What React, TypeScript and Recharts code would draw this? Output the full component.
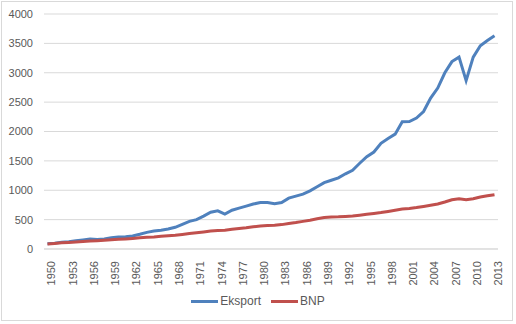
import React from "react";
import { LineChart, Line, XAxis, YAxis, CartesianGrid, Legend } from "recharts";

const years = Array.from({ length: 64 }, (_, i) => String(1950 + i));

const eksport = [
  88, 100, 115, 125, 140, 155, 170, 160, 170, 190,
  205, 210, 220, 250, 283, 305, 320, 340, 370, 420,
  470, 500, 560, 625, 650, 595, 660, 695, 730, 765,
  790, 790, 770, 790, 865, 900, 935, 990, 1060, 1130,
  1170, 1210, 1280, 1340, 1460, 1570, 1650, 1800, 1880, 1955,
  2165, 2170, 2230, 2340, 2570, 2740, 3000, 3190, 3265, 2865,
  3265, 3460, 3550, 3630,
];

const bnp = [
  85, 95, 105, 112, 120, 128, 135, 142, 150, 158,
  165, 172, 180, 190, 200, 205, 215, 225, 235, 248,
  262, 275, 290, 305, 315, 318, 335, 350, 362, 378,
  392, 400, 405, 415, 435, 450, 470, 490, 515, 535,
  545, 548, 555, 560, 575, 590, 605, 620, 640, 660,
  680, 690, 705, 725, 745, 765, 800, 838, 855, 838,
  855, 885, 905, 925,
];

const seriesNames = ["Eksport", "BNP"];
const yTicks = [0, 500, 1000, 1500, 2000, 2500, 3000, 3500, 4000];

const data = years.map((year, i) => ({
  year,
  Eksport: eksport[i],
  BNP: bnp[i],
}));

const font = "'Liberation Sans', Arial, sans-serif";
const textColor = "#595959";

const renderLegend = (props: any) => {
  const items = [...props.payload].sort(
    (a: any, b: any) => seriesNames.indexOf(a.value) - seriesNames.indexOf(b.value)
  );
  return (
    <div style={{ display: "flex", justifyContent: "center", alignItems: "center", fontFamily: font, fontSize: 12, color: textColor, lineHeight: "14px" }}>
      {items.map((entry: any, index: number) => (
        <div key={`item-${index}`} style={{ display: "flex", alignItems: "center", marginRight: index === 0 ? 10 : 0 }}>
          <span style={{ display: "inline-block", width: 27, height: 3, background: entry.color, marginRight: 2 }} />
          <span>{entry.value}</span>
        </div>
      ))}
    </div>
  );
};

export default function App() {
  return (
    <div style={{ position: "absolute", left: 0, top: 0, width: 516, height: 324, background: "#fff" }}>
      <div style={{ position: "absolute", left: 1, top: 1, width: 510, height: 318, border: "1px solid #d9d9d9" }} />
      <LineChart
        width={516}
        height={324}
        data={data}
        margin={{ top: 14, right: 18, left: 0, bottom: 0 }}
      >
        <CartesianGrid vertical={false} stroke="#d9d9d9" strokeWidth={1} />
        <XAxis
          dataKey="year"
          interval={2}
          angle={-90}
          textAnchor="end"
          tickLine={false}
          axisLine={{ stroke: "#d9d9d9" }}
          tickSize={0}
          tickMargin={8}
          height={44}
          padding={{ left: 3.5, right: 3.5 }}
          tick={{ fill: textColor, fontSize: 11, fontFamily: font, dy: 4 }}
        />
        <YAxis
          domain={[0, 4000]}
          ticks={yTicks}
          width={44}
          axisLine={false}
          tickLine={false}
          tickSize={0}
          tickMargin={11}
          tick={{ fill: textColor, fontSize: 11, fontFamily: font }}
        />
        <Legend
          verticalAlign="bottom"
          height={31}
          content={renderLegend}
          wrapperStyle={{ top: 294, bottom: "auto", left: 0, width: 516 }}
        />
        <Line
          type="linear"
          dataKey="Eksport"
          stroke="#4f81bd"
          strokeWidth={3}
          dot={false}
          isAnimationActive={false}
        />
        <Line
          type="linear"
          dataKey="BNP"
          stroke="#c0504d"
          strokeWidth={3}
          dot={false}
          isAnimationActive={false}
        />
      </LineChart>
    </div>
  );
}
